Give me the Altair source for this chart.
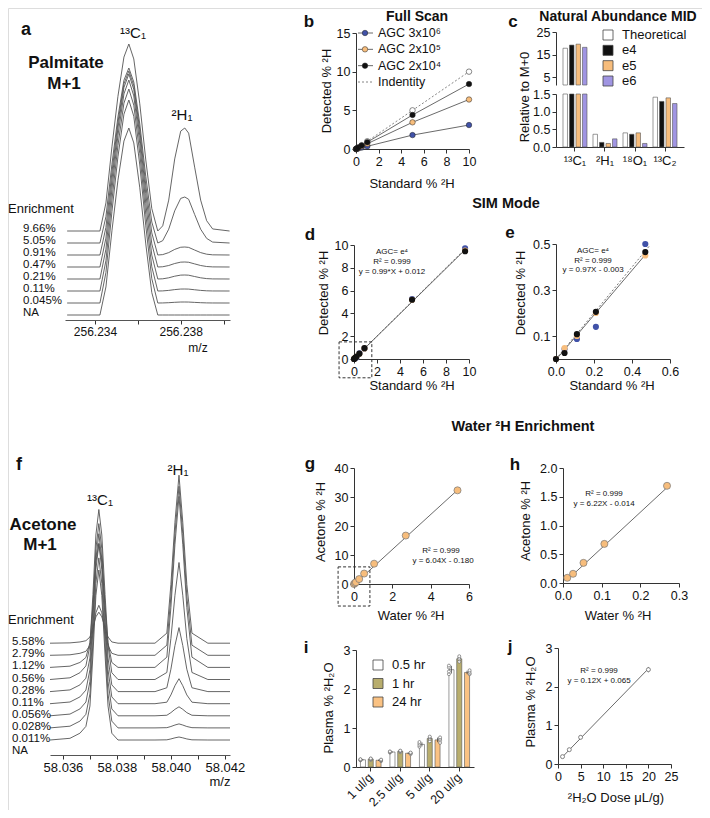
import altair as alt
import pandas as pd

W, H = 694, 802
FONT = "Liberation Sans"
BLUE = "#4152A8"
ORANGE = "#F7BD7C"
BLACK = "#111111"
LAV = "#A095E2"
OLIVE = "#B8AD6D"
ORANGE2 = "#FAC283"

# ---------------- Panel a : Palmitate M+1 spectra ----------------
a_mz = [256.23270, 256.23423, 256.23451, 256.23479, 256.23507, 256.23535, 256.23558,
        256.23581, 256.23609, 256.23637, 256.23665, 256.23693, 256.23716, 256.23744,
        256.23772, 256.23800, 256.23819, 256.23837, 256.23865, 256.23893, 256.23921,
        256.23949, 256.24028]
a_c_shape = [0, 0, 0.15, 0.45, 0.72, 0.93, 1.0, 0.92, 0.68, 0.38, 0.12, 0,
             0, 0, 0, 0, 0, 0, 0, 0, 0, 0, 0]
a_h_shape = [0, 0, 0, 0, 0, 0, 0, 0, 0, 0, 0,
             0, 0.05, 0.3, 0.7, 0.97, 1.0, 0.95, 0.62, 0.3, 0.1, 0.02, 0]
a_labels = ["9.66%", "5.05%", "0.91%", "0.47%", "0.21%", "0.11%", "0.045%", "NA"]
a_c_height = [187, 175, 184, 193, 199, 202, 203, 187]
a_h_height = [103, 46, 8, 5, 4, 2, 1, 0]
a_ticks = [256.234, 256.236, 256.238, 256.240]

# ---------------- Panel f : Acetone M+1 spectra ----------------
f_mz = [58.03552, 58.03626, 58.03663, 58.03685, 58.03700, 58.03711, 58.03722, 58.03733,
        58.03744, 58.03756, 58.03767, 58.03781, 58.03804, 58.03941, 58.03985, 58.04000,
        58.04015, 58.04030, 58.04044, 58.04059, 58.04078, 58.04137, 58.04219]
f_c_shape = [0, 0.01, 0.04, 0.08, 0.2, 0.5, 0.85, 1.0, 0.85, 0.5, 0.2, 0.04, 0,
             0, 0, 0, 0, 0, 0, 0, 0, 0, 0]
f_h_shape = [0, 0, 0, 0, 0, 0, 0, 0, 0, 0, 0, 0, 0,
             0, 0.06, 0.35, 0.72, 1.0, 0.72, 0.35, 0.06, 0, 0]
f_labels = ["5.58%", "2.79%", "1.12%", "0.56%", "0.28%", "0.11%", "0.056%", "0.028%", "0.011%", "NA"]
f_c_height = [31, 50, 124, 170, 168, 170, 172, 170, 170, 0]
f_h_height = [168, 169, 171, 117, 64, 25, 9, 4, 3, 0]
f_ticks = [58.036, 58.037, 58.038, 58.039, 58.040, 58.041, 58.042]

# ---------------- Panel b : Full scan ----------------
b_std = [0, 0.1, 0.2, 0.5, 1, 5, 10]
b_agc6 = [0, 0.04, 0.07, 0.18, 0.35, 1.8, 3.1]
b_agc5 = [0, 0.07, 0.14, 0.35, 0.68, 3.45, 6.4]
b_agc4 = [0, 0.09, 0.18, 0.45, 0.88, 4.4, 8.4]
b_identity = [0, 0.1, 0.2, 0.5, 1, 5, 10]
b_series = ["AGC 3x10⁶", "AGC 2x10⁵", "AGC 2x10⁴"]

# ---------------- Panel c : Natural abundance MID ----------------
c_iso = ["¹³C₁", "²H₁", "¹⁸O₁", "¹³C₂"]
c_series = ["Theoretical", "e4", "e5", "e6"]
c_theoretical = [17.8, 0.36, 0.40, 1.41]
c_e4 = [19.2, 0.13, 0.36, 1.29]
c_e5 = [19.6, 0.10, 0.40, 1.39]
c_e6 = [18.2, 0.23, 0.10, 1.23]

# ---------------- Panels d, e : SIM mode ----------------
de_std = [0, 0.045, 0.11, 0.21, 0.47, 0.91, 5.05, 9.66]
de_agc6 = [0, 0.043, 0.087, 0.14, 0.50, 0.93, 5.25, 9.7]
de_agc5 = [0, 0.048, 0.10, 0.20, 0.45, 0.93, 5.2, 9.5]
de_agc4 = [0, 0.026, 0.108, 0.205, 0.465, 0.95, 5.2, 9.45]
d_fit_x = [0, 9.7]
d_fit_y = [0.012, 9.62]
d_id_x = [0, 9.8]
d_id_y = [0, 9.8]
d_box = [-1.3, 1.55, -1.65, 1.5]
e_fit_x = [0, 0.48]
e_fit_y = [-0.003, 0.463]
e_id_x = [0, 0.49]
e_id_y = [0, 0.49]

# ---------------- Panels g, h : water enrichment ----------------
g_water = [0, 0.05, 0.1, 0.27, 0.53, 1.05, 2.7, 5.4]
g_acetone = [0, 0.3, 0.6, 1.7, 3.6, 7.0, 16.7, 32.3]
g_fit_x = [0, 5.4]
g_fit_y = [-0.18, 32.4]
g_box = [-0.83, 0.83, -7.6, 5.9]
h_water = [0.011, 0.026, 0.053, 0.107, 0.269]
h_acetone = [0.09, 0.16, 0.35, 0.68, 1.69]
h_fit_x = [0.011, 0.269]
h_fit_y = [0.054, 1.66]

# ---------------- Panel i : plasma 2H2O ----------------
i_doses = ["1 ul/g", "2.5 ul/g", "5 ul/g", "20 ul/g"]
i_times = ["0.5 hr", "1 hr", "24 hr"]
i_05 = [[0.17, 0.18, 0.19, 0.20], [0.37, 0.38, 0.39, 0.40], [0.52, 0.56, 0.60, 0.64], [2.38, 2.45, 2.55, 2.60]]
i_1 = [[0.18, 0.20, 0.21, 0.22], [0.38, 0.40, 0.41, 0.42], [0.66, 0.72, 0.76, 0.78], [2.70, 2.76, 2.80, 2.84]]
i_24 = [[0.15, 0.17, 0.18, 0.19], [0.33, 0.35, 0.36, 0.37], [0.62, 0.68, 0.72, 0.76], [2.38, 2.40, 2.44, 2.48]]

# ---------------- Panel j : dose response ----------------
j_dose = [1, 2.5, 5, 20]
j_plasma = [0.19, 0.37, 0.69, 2.44]
j_sd = [0.02, 0.02, 0.05, 0.07]
j_fit_x = [1, 20]
j_fit_y = [0.185, 2.465]


# ================= helpers =================
def X(v):
    return v - 8


def Y(v):
    return v - 8


def lin(domain, a, b, axis="x"):
    rng = [X(a), X(b)] if axis == "x" else [Y(a), Y(b)]
    return alt.Scale(domain=domain, range=rng, nice=False, zero=False)


AX = dict(grid=False, title=None, labelFont=FONT, labelFontSize=12.5, labelColor="#111",
          domainColor="#333", tickColor="#333", tickSize=4, labelPadding=2,
          labelFlush=False, labelOverlap=False, domainWidth=1, tickWidth=1)


def bax(yp, **kw):
    d = dict(AX)
    d.update(kw)
    return alt.Axis(orient="bottom", offset=Y(yp) - H, **d)


def lax(xp, **kw):
    d = dict(AX)
    d.update(kw)
    return alt.Axis(orient="left", offset=-X(xp), **d)


ONE = pd.DataFrame({"k": [0]})


def txt(s, x, y, size=13, weight="normal", align="center", angle=0, baseline="middle"):
    return alt.Chart(ONE).mark_text(text=s, fontSize=size, fontWeight=weight, align=align,
                                    baseline=baseline, angle=angle, font=FONT, color="#111").encode(
        x=alt.value(X(x)), y=alt.value(Y(y)))


layers = []


# ================= spectra (a, f) =================
def spectrum(mz, cs, hs, labels, ch, hh, base, step, skip_na):
    n = len(labels)
    rows = []
    for i, lab in enumerate(labels):
        if skip_na and lab == "NA":
            continue
        off = base + (n - 1 - i) * step
        for m, c, h in zip(mz, cs, hs):
            rows.append({"t": lab, "mz": m, "v": off + ch[i] * c + hh[i] * h})
    return pd.DataFrame(rows)


a_df = spectrum(a_mz, a_c_shape, a_h_shape, a_labels, a_c_height, a_h_height, 5, 12, False)
a_lab = pd.DataFrame({"t": a_labels, "v": [5 + (len(a_labels) - 1 - i) * 12 + 2 for i in range(len(a_labels))]})
a_xs = lin([256.2326, 256.2403], 65, 230)
a_ys = lin([0, 300], 320, 20, "y")
layers.append(alt.Chart(a_df).mark_line(color="#555", strokeWidth=0.9).encode(
    x=alt.X("mz:Q", scale=a_xs, axis=bax(320, values=a_ticks, labelFontSize=12, domainColor="#555",
                                          labelExpr="abs(datum.value-256.236)<0.0003 || abs(datum.value-256.240)<0.0003 ? '' : format(datum.value, '.3f')")),
    y=alt.Y("v:Q", scale=a_ys, axis=None), detail="t:N", order="mz:Q"))
layers.append(alt.Chart(a_lab).mark_text(align="left", fontSize=11.5, font=FONT, color="#111").encode(
    x=alt.value(X(23)), y=alt.Y("v:Q", scale=a_ys, axis=None), text="t:N"))

f_df = spectrum(f_mz, f_c_shape, f_h_shape, f_labels, f_c_height, f_h_height, 2.9, 12.1, True)
f_lab = pd.DataFrame({"t": f_labels, "v": [2.9 + (len(f_labels) - 1 - i) * 12.1 + 1 for i in range(len(f_labels))]})
f_xs = lin([58.03552, 58.04219], 50, 230)
f_ys = lin([0, 300], 755, 455, "y")
layers.append(alt.Chart(f_df).mark_line(color="#555", strokeWidth=0.9).encode(
    x=alt.X("mz:Q", scale=f_xs, axis=bax(755, values=f_ticks, labelFontSize=13, domainColor="#555",
                                          labelExpr="round(datum.value*1000) % 2 == 0 ? format(datum.value, '.3f') : ''")),
    y=alt.Y("v:Q", scale=f_ys, axis=None), detail="t:N", order="mz:Q"))
layers.append(alt.Chart(f_lab).mark_text(align="left", fontSize=11.5, font=FONT, color="#111").encode(
    x=alt.value(X(12)), y=alt.Y("v:Q", scale=f_ys, axis=None), text="t:N"))

# ================= panel b =================
b_df = pd.DataFrame([{"x": x, "y": y, "s": s}
                     for s, ys in zip(b_series, [b_agc6, b_agc5, b_agc4]) for x, y in zip(b_std, ys)])
b_id = pd.DataFrame({"x": b_std, "y": b_identity})
bx = lin([0, 10], 356, 469)
by = lin([0, 15], 149, 33, "y")
layers += [
    alt.Chart(b_id).mark_line(color="#666", strokeWidth=0.8, strokeDash=[2, 2]).encode(
        x=alt.X("x:Q", scale=bx, axis=bax(149, values=[0, 2, 4, 6, 8, 10])),
        y=alt.Y("y:Q", scale=by, axis=lax(356, values=[0, 5, 10, 15]))),
    alt.Chart(b_df).mark_line(color="#444", strokeWidth=0.8).encode(
        x=alt.X("x:Q", scale=bx, axis=None), y=alt.Y("y:Q", scale=by, axis=None), detail="s:N"),
    alt.Chart(b_id).mark_circle(size=30, fill="white", stroke="#555", strokeWidth=0.7, opacity=1).encode(
        x=alt.X("x:Q", scale=bx, axis=None), y=alt.Y("y:Q", scale=by, axis=None)),
    alt.Chart(b_df).mark_circle(size=30, stroke="#222", strokeWidth=0.5, opacity=1).encode(
        x=alt.X("x:Q", scale=bx, axis=None), y=alt.Y("y:Q", scale=by, axis=None),
        color=alt.Color("s:N", scale=alt.Scale(domain=b_series, range=[BLUE, ORANGE, BLACK]), legend=None)),
]
b_leg_names = b_series + ["Indentity"]
b_ly = alt.Scale(type="point", domain=b_leg_names, range=[Y(33), Y(82)], padding=0)
b_leg = pd.DataFrame({"s": b_series})
b_leg_all = pd.DataFrame({"s": b_leg_names})
b_leg_id = pd.DataFrame({"s": ["Indentity"]})
layers += [
    alt.Chart(b_leg).mark_rule(color="#444", strokeWidth=0.8).encode(
        x=alt.value(X(358)), x2=alt.value(X(373)), y=alt.Y("s:N", scale=b_ly, axis=None)),
    alt.Chart(b_leg_id).mark_rule(color="#666", strokeWidth=0.8, strokeDash=[2, 2]).encode(
        x=alt.value(X(358)), x2=alt.value(X(373)), y=alt.Y("s:N", scale=b_ly, axis=None)),
    alt.Chart(b_leg).mark_circle(size=30, stroke="#222", strokeWidth=0.5, opacity=1).encode(
        x=alt.value(X(365)), y=alt.Y("s:N", scale=b_ly, axis=None),
        color=alt.Color("s:N", scale=alt.Scale(domain=b_series, range=[BLUE, ORANGE, BLACK]), legend=None)),
    alt.Chart(b_leg_all).mark_text(align="left", fontSize=12.5, font=FONT, color="#111").encode(
        x=alt.value(X(378)), y=alt.Y("s:N", scale=b_ly, axis=None), text="s:N"),
]

# ================= panel c =================
c_rows = []
for s, vals in zip(c_series, [c_theoretical, c_e4, c_e5, c_e6]):
    for iso, v in zip(c_iso, vals):
        c_rows.append({"iso": iso, "s": s, "low": min(v, 1.5), "high": v})
c_df = pd.DataFrame(c_rows)
c_hi = c_df[c_df["high"] > 1.5]
c_colors = ["white", BLACK, ORANGE, LAV]
cx = alt.Scale(domain=c_iso, range=[X(556), X(684)], paddingInner=0.2, paddingOuter=0.233)
cxo = alt.Scale(domain=c_series, paddingInner=0.31, paddingOuter=0)
cfill = alt.Scale(domain=c_series, range=c_colors)
layers += [
    alt.Chart(c_df).mark_bar(stroke="#555", strokeWidth=0.6).encode(
        x=alt.X("iso:N", scale=cx, axis=bax(147, labelFontSize=13, labelAngle=0, labelPadding=3)),
        xOffset=alt.XOffset("s:N", scale=cxo),
        y=alt.Y("low:Q", scale=lin([0, 1.5], 147, 94, "y"), axis=lax(556, values=[0, 0.5, 1.0, 1.5], format=".1f")),
        fill=alt.Fill("s:N", scale=cfill, legend=None)),
    alt.Chart(c_hi).mark_bar(stroke="#555", strokeWidth=0.6).encode(
        x=alt.X("iso:N", scale=cx, axis=None),
        xOffset=alt.XOffset("s:N", scale=cxo),
        y=alt.Y("high:Q", scale=lin([1.5, 25], 85, 32, "y"), axis=lax(556, values=[5, 15, 25])),
        y2=alt.datum(1.5),
        fill=alt.Fill("s:N", scale=cfill, legend=None)),
]
c_ly = alt.Scale(type="point", domain=c_series, range=[Y(35), Y(81)], padding=0)
c_leg = pd.DataFrame({"s": c_series})
layers += [
    alt.Chart(c_leg).mark_point(shape="square", filled=True, size=100, stroke="#444", strokeWidth=0.8, opacity=1).encode(
        x=alt.value(X(608)), y=alt.Y("s:N", scale=c_ly, axis=None),
        fill=alt.Fill("s:N", scale=cfill, legend=None)),
    alt.Chart(c_leg).mark_text(align="left", fontSize=13, font=FONT, color="#111").encode(
        x=alt.value(X(622)), y=alt.Y("s:N", scale=c_ly, axis=None), text="s:N"),
]

# ================= panels d, e =================
de_names = ["3e6", "2e5", "2e4"]
de_rows = [{"x": x, "y": y, "s": s}
           for s, ys in zip(de_names, [de_agc6, de_agc5, de_agc4]) for x, y in zip(de_std, ys)]
de_df = pd.DataFrame(de_rows)
de_col = alt.Scale(domain=de_names, range=[BLUE, ORANGE, BLACK])


def sim_panel(xs, ys, xax, yax, fit_x, fit_y, id_x, id_y, pts):
    return [
        alt.Chart(pd.DataFrame({"x": id_x, "y": id_y})).mark_line(color="#555", strokeWidth=0.8, strokeDash=[2, 2]).encode(
            x=alt.X("x:Q", scale=xs, axis=xax), y=alt.Y("y:Q", scale=ys, axis=yax)),
        alt.Chart(pd.DataFrame({"x": fit_x, "y": fit_y})).mark_line(color="#444", strokeWidth=0.8).encode(
            x=alt.X("x:Q", scale=xs, axis=None), y=alt.Y("y:Q", scale=ys, axis=None)),
        alt.Chart(pts).mark_circle(size=38, opacity=1).encode(
            x=alt.X("x:Q", scale=xs, axis=None), y=alt.Y("y:Q", scale=ys, axis=None),
            color=alt.Color("s:N", scale=de_col, legend=None)),
    ]


dxs = lin([0, 10], 354, 469)
dys = lin([0, 10], 359, 245, "y")
layers += sim_panel(dxs, dys, bax(359, values=[0, 2, 4, 6, 8, 10]), lax(354, values=[0, 2, 4, 6, 8, 10]),
                    d_fit_x, d_fit_y, d_id_x, d_id_y, de_df)
layers.append(alt.Chart(pd.DataFrame({"x": [d_box[0]], "x2": [d_box[1]], "y": [d_box[2]], "y2": [d_box[3]]}))
              .mark_rect(fillOpacity=0, stroke="#333", strokeWidth=1, strokeDash=[3, 2]).encode(
    x=alt.X("x:Q", scale=dxs, axis=None), x2="x2:Q", y=alt.Y("y:Q", scale=dys, axis=None), y2="y2:Q"))

exs = lin([0, 0.6], 556, 670)
eys = lin([0, 0.5], 359, 244, "y")
layers += sim_panel(exs, eys, bax(359, values=[0, 0.2, 0.4, 0.6], format=".1f"),
                    lax(556, values=[0.1, 0.3, 0.5], format=".1f"),
                    e_fit_x, e_fit_y, e_id_x, e_id_y, de_df[de_df["x"] <= 0.5])

# ================= panels g, h =================
gxs = lin([0, 6], 354, 469)
gys = lin([0, 40], 584, 468, "y")
hxs = lin([0, 0.3], 563, 679)
hys = lin([0, 2], 583, 468, "y")


def water_panel(xs, ys, xax, yax, wx, wy, fx, fy):
    return [
        alt.Chart(pd.DataFrame({"x": fx, "y": fy})).mark_line(color="#444", strokeWidth=0.8).encode(
            x=alt.X("x:Q", scale=xs, axis=xax), y=alt.Y("y:Q", scale=ys, axis=yax)),
        alt.Chart(pd.DataFrame({"x": wx, "y": wy})).mark_circle(size=50, fill=ORANGE, stroke="#777", strokeWidth=0.7, opacity=1).encode(
            x=alt.X("x:Q", scale=xs, axis=None), y=alt.Y("y:Q", scale=ys, axis=None)),
    ]


layers += water_panel(gxs, gys, bax(584, values=[0, 2, 4, 6]), lax(354, values=[0, 10, 20, 30, 40]),
                      g_water, g_acetone, g_fit_x, g_fit_y)
layers.append(alt.Chart(pd.DataFrame({"x": [g_box[0]], "x2": [g_box[1]], "y": [g_box[2]], "y2": [g_box[3]]}))
              .mark_rect(fillOpacity=0, stroke="#333", strokeWidth=1, strokeDash=[3, 2]).encode(
    x=alt.X("x:Q", scale=gxs, axis=None), x2="x2:Q", y=alt.Y("y:Q", scale=gys, axis=None), y2="y2:Q"))
layers += water_panel(hxs, hys, bax(583, values=[0, 0.1, 0.2, 0.3], format=".1f"),
                      lax(563, values=[0, 0.5, 1.0, 1.5, 2.0], format=".1f"),
                      h_water, h_acetone, h_fit_x, h_fit_y)

# ================= panel i =================
i_rows = []
i_pts = []
for t, arr in zip(i_times, [i_05, i_1, i_24]):
    for d, reps in zip(i_doses, arr):
        s = pd.Series(reps)
        i_rows.append({"d": d, "t": t, "m": s.mean(), "lo": s.mean() - s.std(), "hi": s.mean() + s.std()})
        for r in reps:
            i_pts.append({"d": d, "t": t, "v": r})
i_df = pd.DataFrame(i_rows)
i_pdf = pd.DataFrame(i_pts)
ixs = alt.Scale(domain=i_doses, range=[X(356), X(474)], paddingInner=0.3, paddingOuter=0.15)
ixo = alt.Scale(domain=i_times, paddingInner=0.35, paddingOuter=0)
iys = lin([0, 3], 767, 650, "y")
ifill = alt.Scale(domain=i_times, range=["white", OLIVE, ORANGE2])
layers += [
    alt.Chart(i_df).mark_bar(stroke="#555", strokeWidth=0.6).encode(
        x=alt.X("d:N", scale=ixs, axis=bax(767, labelAngle=315, labelAlign="right", labelBaseline="middle",
                                            labelFontSize=12.5, labelPadding=4)),
        xOffset=alt.XOffset("t:N", scale=ixo),
        y=alt.Y("m:Q", scale=iys, axis=lax(356, values=[0, 1, 2, 3])),
        fill=alt.Fill("t:N", scale=ifill, legend=None)),
    alt.Chart(i_df).mark_rule(color="#333", strokeWidth=0.7).encode(
        x=alt.X("d:N", scale=ixs, axis=None), xOffset=alt.XOffset("t:N", scale=ixo),
        y=alt.Y("lo:Q", scale=iys, axis=None), y2="hi:Q"),
    alt.Chart(i_pdf).mark_circle(size=9, fill="white", stroke="#555", strokeWidth=0.6, opacity=1).encode(
        x=alt.X("d:N", scale=ixs, axis=None), xOffset=alt.XOffset("t:N", scale=ixo),
        y=alt.Y("v:Q", scale=iys, axis=None)),
]
i_ly = alt.Scale(type="point", domain=i_times, range=[Y(665), Y(702)], padding=0)
i_leg = pd.DataFrame({"t": i_times})
layers += [
    alt.Chart(i_leg).mark_point(shape="square", filled=True, size=100, stroke="#444", strokeWidth=0.8, opacity=1).encode(
        x=alt.value(X(378)), y=alt.Y("t:N", scale=i_ly, axis=None),
        fill=alt.Fill("t:N", scale=ifill, legend=None)),
    alt.Chart(i_leg).mark_text(align="left", fontSize=13, font=FONT, color="#111").encode(
        x=alt.value(X(392)), y=alt.Y("t:N", scale=i_ly, axis=None), text="t:N"),
]

# ================= panel j =================
jxs = lin([0, 25], 558, 671)
jys = lin([0, 3], 764, 648, "y")
j_df = pd.DataFrame({"x": j_dose, "y": j_plasma,
                     "lo": [m - s for m, s in zip(j_plasma, j_sd)], "hi": [m + s for m, s in zip(j_plasma, j_sd)]})
layers += [
    alt.Chart(pd.DataFrame({"x": j_fit_x, "y": j_fit_y})).mark_line(color="#444", strokeWidth=0.8).encode(
        x=alt.X("x:Q", scale=jxs, axis=bax(764, values=[0, 5, 10, 15, 20, 25])),
        y=alt.Y("y:Q", scale=jys, axis=lax(558, values=[0, 1, 2, 3]))),
    alt.Chart(j_df).mark_rule(color="#555", strokeWidth=0.7).encode(
        x=alt.X("x:Q", scale=jxs, axis=None), y=alt.Y("lo:Q", scale=jys, axis=None), y2="hi:Q"),
    alt.Chart(j_df).mark_circle(size=16, fill="white", stroke="#666", strokeWidth=0.8, opacity=1).encode(
        x=alt.X("x:Q", scale=jxs, axis=None), y=alt.Y("y:Q", scale=jys, axis=None)),
]

# ================= texts =================
texts = [
    # panel a
    txt("a", 26, 35, 18, "bold", baseline="alphabetic"),
    txt("Palmitate", 66, 63, 17, "bold"),
    txt("M+1", 64, 84, 17, "bold"),
    txt("¹³C₁", 133, 33, 15),
    txt("²H₁", 182, 115, 15),
    txt("Enrichment", 8, 209, 13, align="left"),
    txt("m/z", 198, 348, 12),
    # panel f
    txt("f", 19, 470, 18, "bold", baseline="alphabetic"),
    txt("Acetone", 43, 525, 17, "bold"),
    txt("M+1", 40, 545, 17, "bold"),
    txt("¹³C₁", 100, 500, 15),
    txt("²H₁", 178, 470, 15),
    txt("Enrichment", 8, 620, 13, align="left"),
    txt("m/z", 220, 782, 13),
    # panel b
    txt("b", 309, 27, 17, "bold", baseline="alphabetic"),
    txt("Full Scan", 417, 17, 14, "bold"),
    txt("Detected % ²H", 327, 91, 13, angle=270),
    txt("Standard % ²H", 412, 184, 13),
    # panel c
    txt("c", 513, 27, 17, "bold", baseline="alphabetic"),
    txt("Natural Abundance MID", 618, 17, 14, "bold"),
    txt("Relative to M+0", 525, 97, 13, angle=270),
    # panels d, e
    txt("SIM Mode", 506, 204, 14.5, "bold"),
    txt("d", 310, 240, 17, "bold", baseline="alphabetic"),
    txt("Detected % ²H", 324, 293, 13, angle=270),
    txt("Standard % ²H", 412, 386, 13),
    txt("AGC= e⁴", 392, 252, 8),
    txt("R² = 0.999", 392, 262, 8),
    txt("y = 0.99*X + 0.012", 392, 272, 8),
    txt("e", 510, 238, 17, "bold", baseline="alphabetic"),
    txt("Detected % ²H", 521, 293, 13, angle=270),
    txt("Standard % ²H", 612, 386, 13),
    txt("AGC= e⁴", 593, 251, 8),
    txt("R² = 0.999", 593, 261, 8),
    txt("y = 0.97X - 0.003", 593, 270, 8),
    # panels g, h
    txt("Water ²H Enrichment", 523, 427, 14.5, "bold"),
    txt("g", 310, 469, 17, "bold", baseline="alphabetic"),
    txt("Acetone % ²H", 321, 522, 13, angle=270),
    txt("Water % ²H", 411, 616, 13),
    txt("R² = 0.999", 441, 551, 8),
    txt("y = 6.04X - 0.180", 443, 561, 8),
    txt("h", 515, 470, 17, "bold", baseline="alphabetic"),
    txt("Acetone % ²H", 526, 521, 13, angle=270),
    txt("Water % ²H", 618, 616, 13),
    txt("R² = 0.999", 604, 494, 8),
    txt("y = 6.22X - 0.014", 604, 504, 8),
    # panels i, j
    txt("i", 306, 653, 17, "bold", baseline="alphabetic"),
    txt("Plasma % ²H₂O", 329, 708, 13, angle=270),
    txt("j", 510, 652, 17, "bold", baseline="alphabetic"),
    txt("Plasma % ²H₂O", 531, 702, 13, angle=270),
    txt("R² = 0.999", 599, 671, 8),
    txt("y = 0.12X + 0.065", 599, 681, 8),
    txt("²H₂O Dose  μL/g)", 616, 798, 13),
]
layers += texts

chart = alt.layer(*layers).resolve_scale(
    x="independent", y="independent", color="independent", fill="independent", xOffset="independent"
).resolve_axis(x="independent", y="independent").properties(
    width=W, height=H, autosize=alt.AutoSizeParams(type="none"), padding=0
).configure_view(stroke=None).configure(font=FONT)

chart.save("out.html", embed_options={"renderer": "svg", "actions": False})
